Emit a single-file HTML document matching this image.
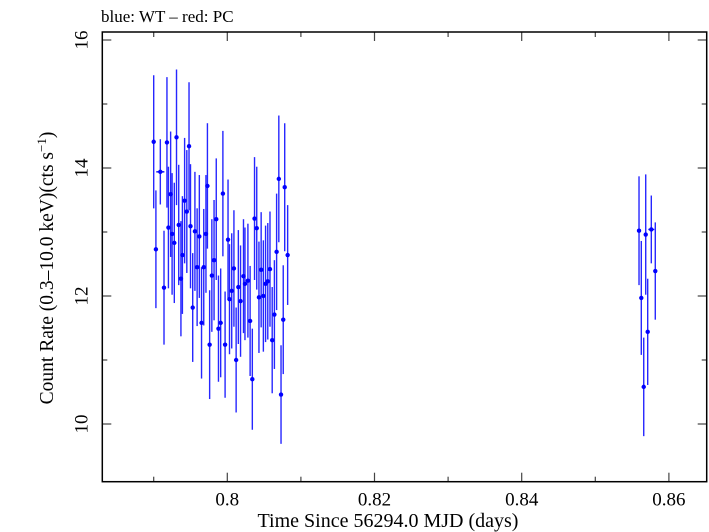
<!DOCTYPE html>
<html><head><meta charset="utf-8">
<style>
body{margin:0;background:#fff;}
svg{display:block;font-family:"Liberation Serif",serif;}
</style></head>
<body>
<svg id="chart" width="709" height="532" viewBox="0 0 709 532" xmlns="http://www.w3.org/2000/svg">
<text x="101" y="22" font-size="17">blue: WT – red: PC</text>
<text x="388" y="527" font-size="20" text-anchor="middle">Time Since 56294.0 MJD (days)</text>
<text transform="translate(53,268) rotate(-90)" font-size="19.5" text-anchor="middle">Count Rate (0.3–10.0 keV)(cts s<tspan font-size="13" dy="-7">−1</tspan><tspan dy="7">)</tspan></text>
<g id="axes"></g>
<g id="marks"></g>
<rect x="102.3" y="32" width="604.4" height="449.7" fill="none" stroke="#000" stroke-width="1.5"/>
</svg>
<script>
const times = [0.7900,0.7903,0.7909,0.7914,0.7918,0.7920,0.7923,0.7925,0.7928,0.7931,0.7934,0.7937,0.7939,0.7942,0.7945,0.7948,0.7950,0.7953,0.7956,0.7959,0.7962,0.7965,0.7968,0.7971,0.7973,0.7976,0.7979,0.7982,0.7985,0.7988,0.7991,0.7994,0.7997,0.8001,0.8003,0.8006,0.8009,0.8012,0.8015,0.8018,0.8022,0.8024,0.8028,0.8031,0.8034,0.8037,0.8040,0.8043,0.8046,0.8049,0.8052,0.8055,0.8058,0.8061,0.8064,0.8067,0.8070,0.8073,0.8076,0.8078,0.8082,
0.85594,0.85625,0.85658,0.85685,0.85712,0.85761,0.85815];
const rates = [14.41,12.73,13.94,12.13,14.40,13.07,13.59,12.97,12.83,14.48,13.11,12.27,12.64,13.49,13.32,14.34,13.09,11.82,13.01,12.45,12.93,11.58,12.45,12.97,13.72,11.24,12.32,12.56,13.20,11.49,11.58,13.60,11.24,12.88,11.95,12.08,12.43,11.00,12.14,11.92,12.31,12.19,12.24,11.61,10.70,13.21,13.06,11.98,12.41,12.00,12.19,12.23,12.42,11.31,11.71,12.69,13.83,10.46,11.63,13.70,12.64,
13.02,11.97,10.58,12.96,11.44,13.04,12.39];
const rateErr = [1.04,0.92,0.51,0.89,1.02,0.95,0.98,0.95,0.94,1.06,0.94,0.90,0.92,0.98,0.96,1.00,0.97,0.85,0.93,0.92,0.96,0.87,0.91,0.92,0.98,0.85,0.88,0.94,0.95,0.83,0.85,0.98,0.83,0.94,0.86,0.90,0.91,0.82,0.89,0.87,0.89,0.88,0.89,0.86,0.79,0.96,0.96,0.87,0.90,0.87,0.91,0.91,0.90,0.83,0.85,0.91,0.99,0.77,0.85,1.00,0.78,
0.85,0.89,0.77,0.94,0.83,0.53,0.76];
const timeErr = [0.0001,0.0001,0.00055,0.0001,0.0001,0.0001,0.0001,0.0001,0.0001,0.0001,0.0001,0.0001,0.0001,0.0001,0.0001,0.0001,0.0001,0.0001,0.0001,0.0001,0.0001,0.0001,0.0001,0.0001,0.0001,0.0001,0.0001,0.0001,0.0001,0.0001,0.0001,0.0001,0.0001,0.0001,0.0001,0.0001,0.0001,0.0001,0.0001,0.0001,0.0001,0.0001,0.0001,0.0001,0.0001,0.0001,0.0001,0.0001,0.0001,0.0001,0.0001,0.0001,0.0001,0.0001,0.0001,0.0001,0.0001,0.0001,0.0001,0.0001,0.0001,
0.0001,0.0001,0.0001,0.0001,0.0001,0.0004,0.0001];
const xTicks = [0.8,0.82,0.84,0.86];
const xTickLabels = ["0.8","0.82","0.84","0.86"];
const xMinor = [0.79,0.81,0.83,0.85];
const yTicks = [10,12,14,16];
const yTickLabels = ["10","12","14","16"];
const yMinor = [11,13,15];

const L=102.3,R=706.7,T=32,B=481.7;
const xs = t => 227.3 + (t-0.8)*7360;
const ys = v => 40 + (16-v)*64;
const NS="http://www.w3.org/2000/svg";
function mk(tag, attrs, parent){const e=document.createElementNS(NS,tag);for(const k in attrs)e.setAttribute(k,attrs[k]);parent.appendChild(e);return e;}
const axes=document.getElementById('axes'), marks=document.getElementById('marks');
function tickLine(x1,y1,x2,y2,name){const l=mk('line',{x1,y1,x2,y2,stroke:'#444','stroke-width':1.2},axes);

}
xTicks.forEach((t,i)=>{const x=xs(t);
 tickLine(x,B,x,B-9,'x-major-tick');tickLine(x,T,x,T+9,'x-major-tick-top');
 const tx=mk('text',{x:x,y:B+24,'font-size':19,'text-anchor':'middle'},axes);tx.textContent=xTickLabels[i];
 
 });
xMinor.forEach(t=>{const x=xs(t);tickLine(x,B,x,B-5,'x-minor-tick');tickLine(x,T,x,T+5,'x-minor-tick-top');});
yTicks.forEach((v,i)=>{const y=ys(v);
 tickLine(L,y,L+9,y,'y-major-tick');tickLine(R,y,R-9,y,'y-major-tick-right');
 const tx=mk('text',{transform:`translate(${L-15},${y}) rotate(-90)`,'font-size':19,'text-anchor':'middle'},axes);tx.textContent=yTickLabels[i];
 
 });
yMinor.forEach(v=>{const y=ys(v);tickLine(L,y,L+5,y,'y-minor-tick');tickLine(R,y,R-5,y,'y-minor-tick-right');});
times.forEach((t,i)=>{const x=xs(t),y=ys(rates[i]);
 const v=mk('line',{x1:x,x2:x,y1:ys(rates[i]+rateErr[i]),y2:ys(rates[i]-rateErr[i]),stroke:'#0000ff','stroke-width':1.4,'stroke-opacity':0.85},marks);
 
 
 const h=mk('line',{x1:xs(t-timeErr[i]),x2:xs(t+timeErr[i]),y1:y,y2:y,stroke:'#0000ff','stroke-width':1.4},marks);
 
 
 const c=mk('circle',{cx:x,cy:y,r:2.2,fill:'#0000ff'},marks);
 
 });
</script>
</body></html>
